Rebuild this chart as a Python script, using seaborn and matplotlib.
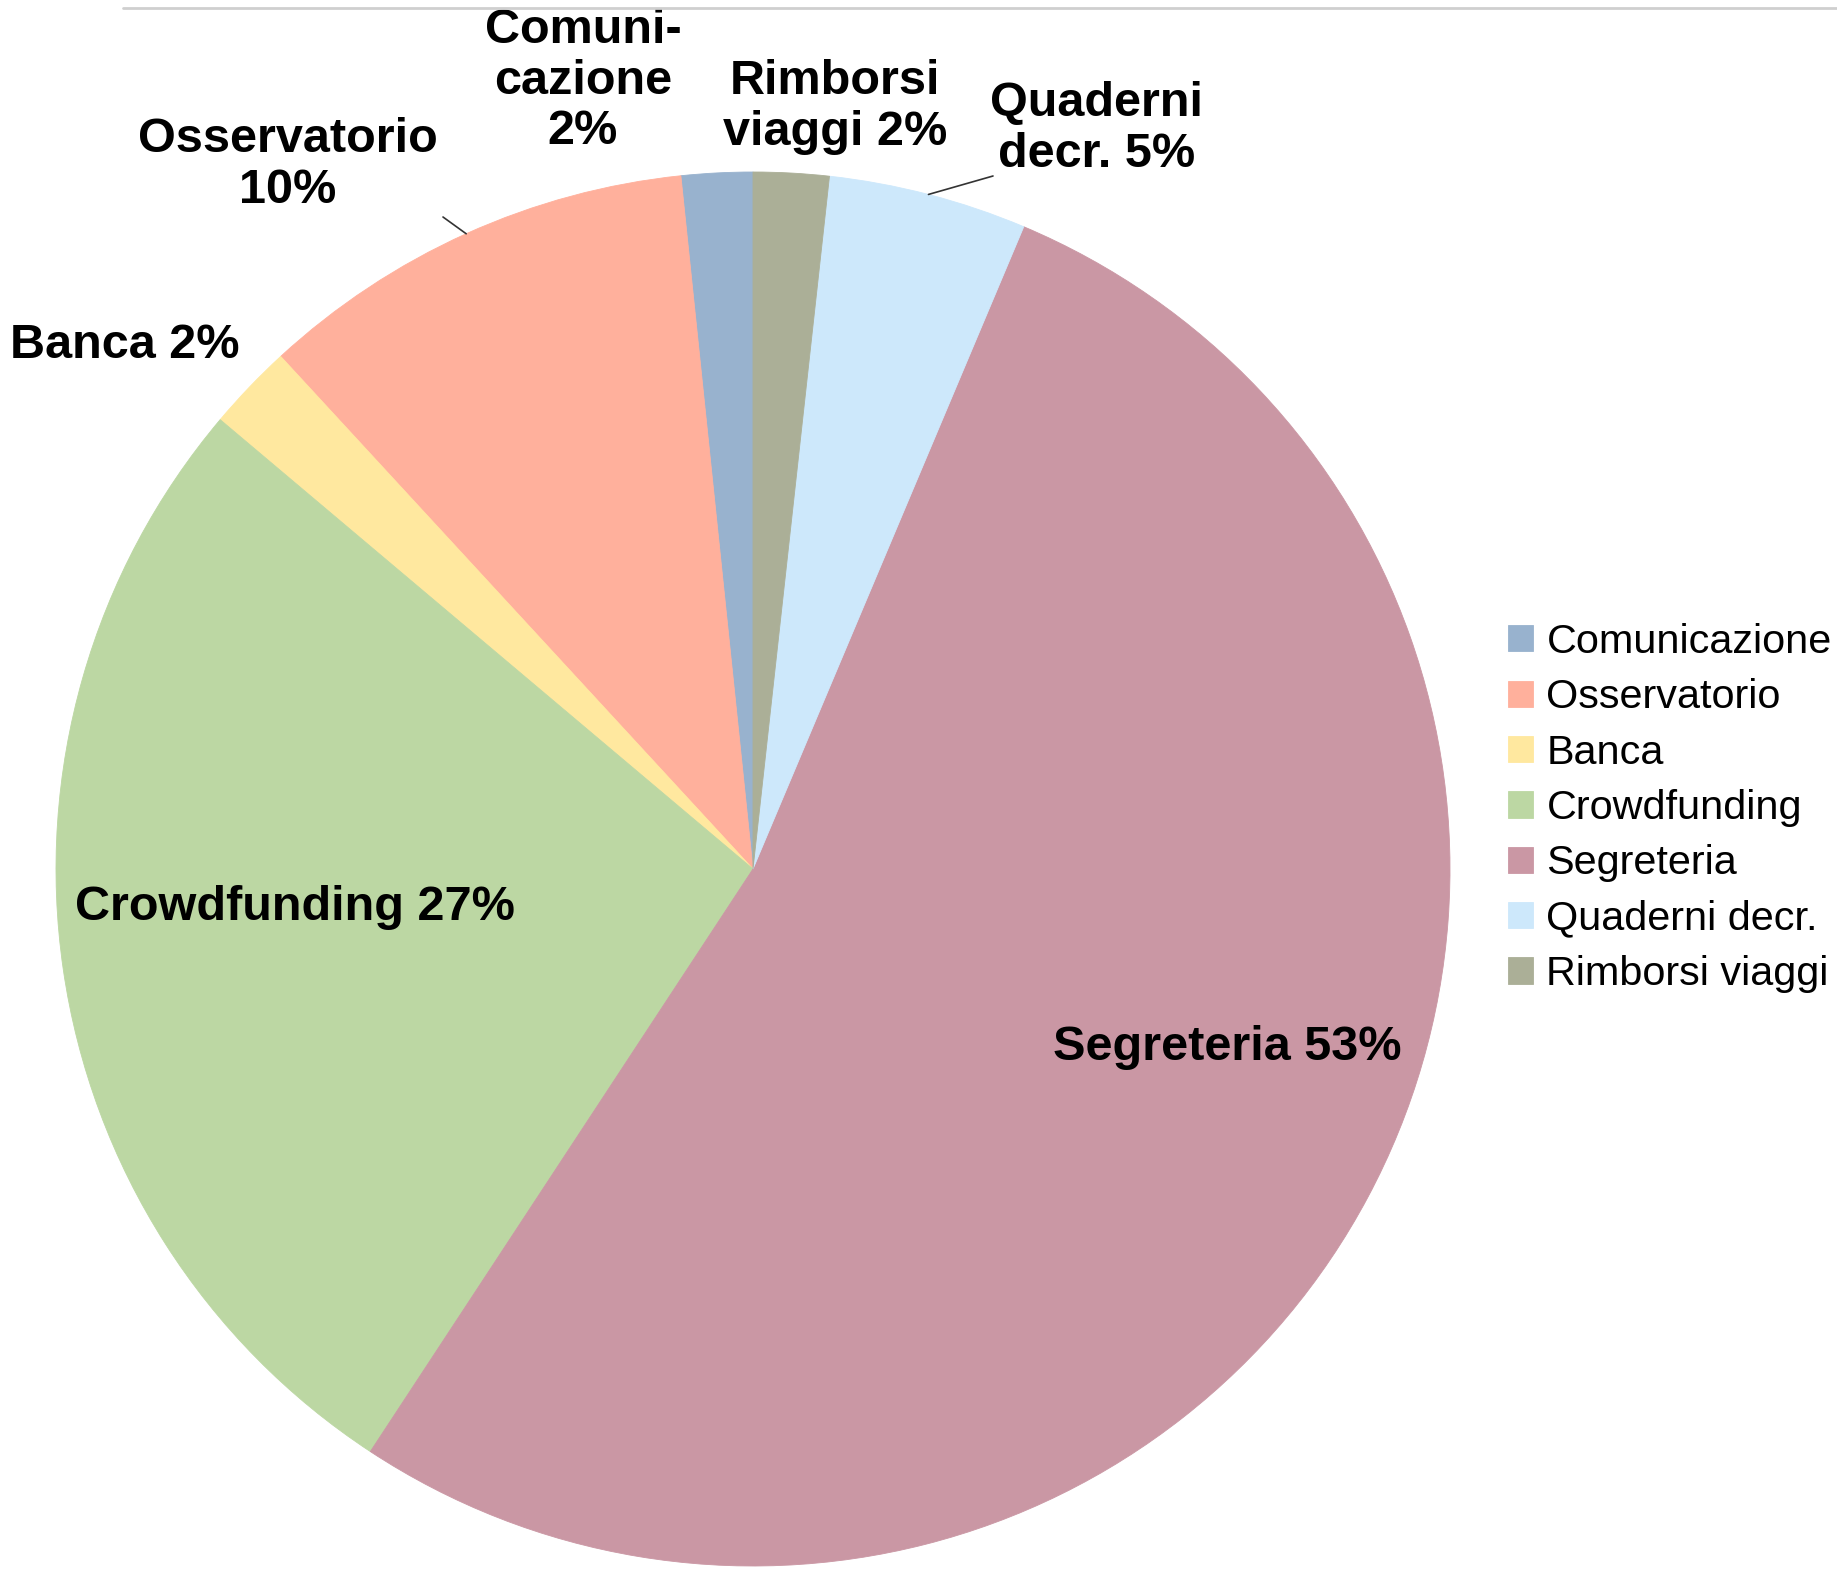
import numpy as np
import matplotlib
matplotlib.use('Agg')
import matplotlib.pyplot as plt
import seaborn as sns

sns.set_style('white')
plt.rcParams['font.family'] = ['Liberation Sans', 'DejaVu Sans']

# dati (quote stimate in %)
voci = ['Comunicazione', 'Osservatorio', 'Banca', 'Crowdfunding',
        'Segreteria', 'Quaderni decr.', 'Rimborsi viaggi']
quote = [1.65, 10.2, 2.0, 26.9, 52.9, 4.6, 1.75]
etichette = ['Comuni-\ncazione\n{p}%', 'Osservatorio\n{p}%', 'Banca {p}%',
             'Crowdfunding {p}%', 'Segreteria {p}%', 'Quaderni\ndecr. {p}%',
             'Rimborsi\nviaggi {p}%']
colori = ['#98b2ce', '#ffb09c', '#ffe89f', '#bcd7a3', '#ca97a4', '#cde8fb', '#abaf97']

W, H = 1837, 1571
CX, CY, RPX = 753, 869, 697   # centro e raggio della torta in pixel

def px(x, y):
    # pixel dell'immagine -> coordinate dati
    return (x - CX) / RPX, (CY - y) / RPX

fig = plt.figure(figsize=(W / 100, H / 100), dpi=100)
ax = fig.add_axes([0, 0, 1, 1])
palette = sns.color_palette(colori)
wedges, _ = ax.pie(quote, colors=palette, startangle=90, counterclock=True,
                   radius=1, wedgeprops=dict(linewidth=0.6))
for w in wedges:
    w.set_edgecolor(w.get_facecolor())
ax.set_xlim(-CX / RPX, (W - CX) / RPX)
ax.set_ylim(-(H - CY) / RPX, CY / RPX)
ax.set_aspect('auto')
ax.axis('off')

# posizione delle etichette (pixel) e linee guida
pos_etichette = [(583, 81), (288, 165), (125, 346), (295, 907),
                 (1227, 1048), (1097, 129), (835, 107)]
linee = {1: (443, 217), 5: (993, 176)}
tot = sum(quote)
for i, (w, testo) in enumerate(zip(wedges, etichette)):
    p = round(quote[i] / tot * 100)
    x, y = px(*pos_etichette[i])
    ax.text(x, y, testo.format(p=p), ha='center', va='center', fontsize=35,
            fontweight='bold', linespacing=1.15, color='black')
    if i in linee:
        ang = np.deg2rad((w.theta1 + w.theta2) / 2)
        ex, ey = px(*linee[i])
        ax.plot([np.cos(ang), ex], [np.sin(ang), ey], color='#333333', lw=1.2)

leg = ax.legend(wedges, voci, loc='center left', bbox_to_anchor=(1508 / W, 1 - 808 / H),
                bbox_transform=fig.transFigure, frameon=False, fontsize=29.8,
                handlelength=0.6, handleheight=0.6, handletextpad=0.33,
                labelspacing=0.42, borderpad=0, borderaxespad=0)
for t in leg.get_texts():
    t.set_color('black')

fig.add_artist(plt.Line2D([123 / W, 1], [1 - 8 / H, 1 - 8 / H], color='#cfcfcf', lw=2))

fig.savefig('out.png', dpi=100)
